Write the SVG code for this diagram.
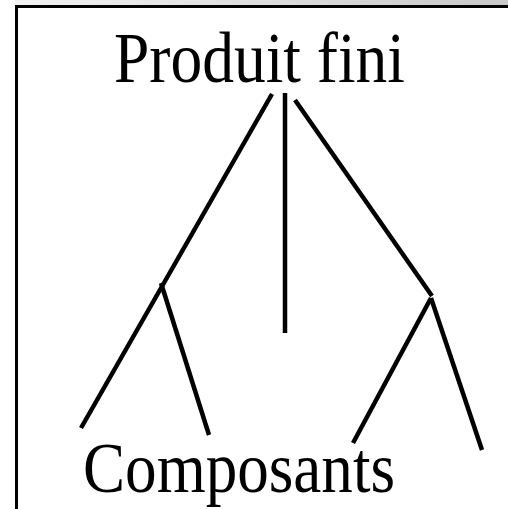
<svg xmlns="http://www.w3.org/2000/svg" width="508" height="509" viewBox="0 0 508 509">
<defs>
<linearGradient id="band" x1="0" y1="0" x2="1" y2="0">
<stop offset="0" stop-color="#f2f2f2"/>
<stop offset="1" stop-color="#c8c8c8"/>
</linearGradient>
</defs>
<style>
.lbl{font-family:"Liberation Serif","Times New Roman",serif;font-size:72px;fill:#000}
.edge{stroke:#000;stroke-width:4.5;fill:none;stroke-linecap:butt}
.frame{stroke:#000;stroke-width:3;fill:none}
</style>
<rect x="0" y="0" width="508" height="509" fill="#fff"/>
<rect x="15" y="0" width="493" height="5" fill="url(#band)"/>
<path class="frame" d="M16.5,509 V6.5 H508"/>
<g id="produit-fini">
<text class="lbl" x="114" y="82" textLength="291" lengthAdjust="spacingAndGlyphs">Produit fini</text>
</g>
<g id="composants">
<text class="lbl" x="83" y="492" textLength="312" lengthAdjust="spacingAndGlyphs">Composants</text>
</g>
<g id="connectors">
<line class="edge" x1="272" y1="94" x2="81" y2="428"/>
<line class="edge" x1="161" y1="283" x2="209" y2="435"/>
<line class="edge" x1="285" y1="93" x2="285" y2="333"/>
<line class="edge" x1="295" y1="100" x2="432" y2="296"/>
<line class="edge" x1="431" y1="298" x2="353" y2="443"/>
<line class="edge" x1="431" y1="298" x2="482" y2="450"/>
</g>
</svg>
